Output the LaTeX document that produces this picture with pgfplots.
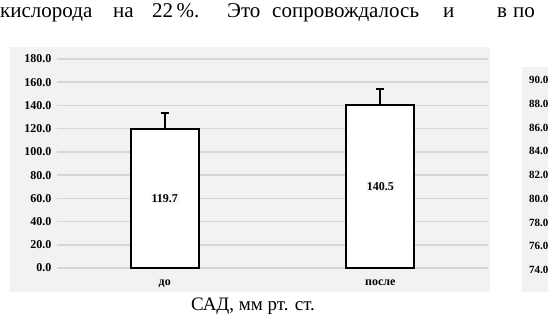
\documentclass[border=0pt]{standalone}
\usepackage{pgfplots}
\pgfplotsset{compat=1.18}
\usepackage{fontspec}
\setmainfont{Liberation Serif}
\definecolor{panel}{HTML}{F2F2F2}
\definecolor{gridc}{HTML}{D6D6D6}
\begin{document}
\begin{tikzpicture}[x=1pt,y=1pt]
\path[use as bounding box] (0,0) rectangle (548,314);
\clip (0,0) rectangle (548,314);
\fill[panel] (10,22) rectangle (490,267);
\fill[panel] (522,22) rectangle (640,247);
\begin{scope}[every node/.style={anchor=base west, inner sep=0pt, font=\fontsize{21}{24}\selectfont}]
\node at (0,296) {кислорода};
\node at (113,296) {на};
\node at (152,296) {22\,\%.};
\node at (227,296) {Это};
\node at (272,296) {сопровождалось};
\node at (443,296) {и};
\node at (497,296) {в};
\node at (513,296) {по};
\end{scope}
\node[anchor=base, inner sep=0pt, font=\fontsize{19}{22}\selectfont] at (253,4) {САД, мм рт. ст.};
\begin{axis}[
  at={(57pt,46pt)}, anchor=south west,
  scale only axis, width=431pt, height=209pt,
  xmin=-0.5, xmax=1.5, ymin=0, ymax=180,
  ytick={0,20,...,180},
  xtick={0,1}, xticklabels={до,после},
  axis line style={draw=none},
  major tick length=0pt,
  ymajorgrids, major grid style={gridc, line width=1.5pt},
  /pgf/number format/.cd, fixed, fixed zerofill, precision=1, assume math mode=true,
  /pgfplots/.cd,
  yticklabel style={font=\bfseries\fontsize{12}{14}\selectfont, xshift=-2pt},
  xticklabel style={font=\bfseries\fontsize{12}{14}\selectfont, yshift=-8pt},
  clip=false,
]
\addplot[ybar, bar width=68pt, fill=white, draw=black, line width=2pt,
  error bars/.cd, y dir=plus, y explicit,
  error bar style={line width=2pt, black},
  error mark options={rotate=90, mark size=4pt, line width=2pt, black}]
  coordinates {(0,119.7) +- (0,13.5) (1,140.5) +- (0,13.7)};
\addplot[only marks, mark=none, nodes near coords, point meta=explicit symbolic,
  nodes near coords align=center,
  every node near coord/.style={font=\bfseries\fontsize{12}{14}\selectfont, fill=panel!50!white, inner sep=1pt}]
  coordinates {(0,59.85)[119.7] (1,70.25)[140.5]};
\end{axis}
\begin{axis}[
  at={(554pt,44pt)}, anchor=south west,
  scale only axis, width=200pt, height=190pt,
  xmin=0, xmax=1, ymin=74, ymax=90,
  ytick={74,76,...,90}, xtick=\empty,
  axis line style={draw=none},
  major tick length=0pt,
  ymajorgrids, major grid style={gridc, line width=1.5pt},
  /pgf/number format/.cd, fixed, fixed zerofill, precision=1, assume math mode=true,
  /pgfplots/.cd,
  yticklabel style={font=\bfseries\fontsize{11}{13}\selectfont, xshift=-2pt},
]
\end{axis}
\end{tikzpicture}
\end{document}
